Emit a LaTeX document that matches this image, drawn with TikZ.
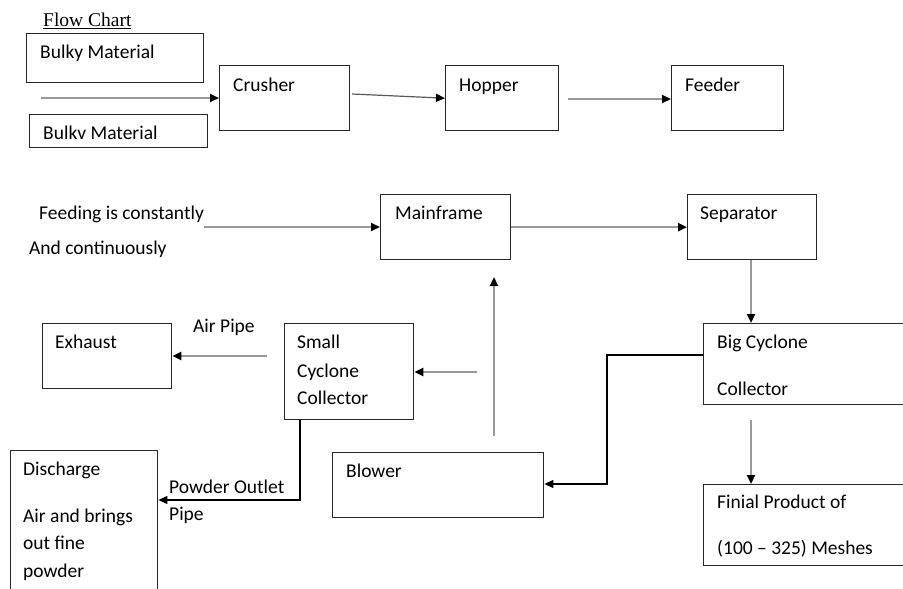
\documentclass[tikz,border=0pt]{standalone}
\usepackage{fontspec}
\setmainfont{Carlito}
\newfontfamily\titlefont{Liberation Serif}
\usetikzlibrary{arrows.meta}
\begin{document}
\begin{tikzpicture}[x=1pt,y=1pt,
 box/.style={draw=black!85,line width=1.4pt,inner sep=0pt,anchor=north west},
 txt/.style={anchor=west,inner sep=0pt,text height=0.64em,text depth=0pt,yshift=-2.5pt,font=\fontsize{19.5}{22}\selectfont},
 garrow/.style={draw=black!40,line width=2.2pt,-{Triangle[color=black,length=9pt,width=8pt]}},
 darrow/.style={draw=black!65,line width=1.2pt,-{Triangle[color=black,length=9pt,width=8pt]}},
 barrow/.style={draw=black,line width=1.1pt,-{Triangle[color=black,length=9pt,width=8pt]}}]
\clip (0,0) rectangle (903,-589);
\fill[white] (0,0) rectangle (903,-589);

% boxes
\node[box,minimum width=177pt,minimum height=49pt] (bulkya) at (26,-33) {};
\node[box,minimum width=178pt,minimum height=33pt] (bulkyb) at (29,-114) {};
\node[box,minimum width=130pt,minimum height=65pt] (crusher) at (219,-65) {};
\node[box,minimum width=113pt,minimum height=65pt] (hopper) at (445,-65) {};
\node[box,minimum width=112pt,minimum height=65pt] (feeder) at (671,-65) {};
\node[box,minimum width=130pt,minimum height=65pt] (mainframe) at (380,-194) {};
\node[box,minimum width=129pt,minimum height=65pt] (separator) at (687,-194) {};
\node[box,minimum width=129pt,minimum height=65pt] (exhaust) at (42,-323) {};
\node[box,minimum width=129pt,minimum height=96pt] (small) at (284,-323) {};
\node[box,minimum width=230pt,minimum height=81pt] (bigc) at (703,-323) {};
\node[box,minimum width=211pt,minimum height=65pt] (blower) at (332,-452) {};
\node[box,minimum width=147pt,minimum height=160pt] (discharge) at (10,-450) {};
\node[box,minimum width=230pt,minimum height=81pt] (finial) at (703,-484) {};

% texts
\node[txt,font=\titlefont\fontsize{19.5}{22}\selectfont] (title) at (43,-21) {\underline{Flow Chart}};
\node[txt] (t1) at (40,-53) {Bulky Material};
\node[txt] (t2) at (43,-134) {Bulkv Material};
\node[txt] (t3) at (233,-86) {Crusher};
\node[txt] (t4) at (459,-86) {Hopper};
\node[txt] (t5) at (685,-86) {Feeder};
\node[txt] (t6) at (39,-214) {Feeding is constantly};
\node[txt] (t7) at (29,-249) {And continuously};
\node[txt] (t8) at (395,-214) {Mainframe};
\node[txt] (t9) at (700,-214) {Separator};
\node[txt] (t10) at (193,-327) {Air Pipe};
\node[txt] (t11) at (55,-343) {Exhaust};
\node[txt] (t12) at (297,-343) {Small};
\node[txt] (t13) at (297,-372) {Cyclone};
\node[txt] (t14) at (297,-399) {Collector};
\node[txt] (t15) at (717,-343) {Big Cyclone};
\node[txt] (t16) at (717,-390) {Collector};
\node[txt] (t17) at (23,-470) {Discharge};
\node[txt] (t18) at (23,-517) {Air and brings};
\node[txt] (t19) at (23,-544) {out fine};
\node[txt] (t20) at (23,-572) {powder};
\node[txt] (t21) at (169,-488) {Powder Outlet};
\node[txt] (t22) at (169,-515) {Pipe};
\node[txt] (t23) at (346,-472) {Blower};
\node[txt] (t24) at (717,-503) {Finial Product of};
\node[txt] (t25) at (717,-549) {(100 – 325) Meshes};

% free ends
\coordinate (in1) at (41,-98);
\coordinate (c1) at (352,-94);
\coordinate (h1) at (568,-99);
\coordinate (f1) at (204,-227);
\coordinate (b1) at (751,-420);
\coordinate (up1) at (494,-436);
\coordinate (up2) at (494,-277);
\coordinate (s1) at (477,-372);
\coordinate (e1) at (267,-356);
\coordinate (p1) at (300,-500);
\coordinate (q1) at (607,-355);
\coordinate (q2) at (607,-484);

% connectors
\draw[garrow] (in1) -- (in1 -| crusher.west);
\draw[darrow] (c1) -- (hopper.west);
\draw[garrow] (h1) -- (h1 -| feeder.west);
\draw[garrow] (f1) -- (f1 -| mainframe.west);
\draw[garrow] (mainframe.east) -- (mainframe.east -| separator.west);
\draw[garrow] (b1 |- separator.south) -- (b1 |- bigc.north);
\draw[garrow] (b1) -- (b1 |- finial.north);
\draw[garrow] (up1) -- (up2);
\draw[garrow] (s1) -- (s1 -| small.east);
\draw[garrow] (e1) -- (e1 -| exhaust.east);
\draw[barrow] (p1 |- small.south) -- (p1) -- (p1 -| discharge.east);
\draw[barrow] (q1 -| bigc.west) -- (q1) -- (q2) -- (q2 -| blower.east);
\end{tikzpicture}
\end{document}
